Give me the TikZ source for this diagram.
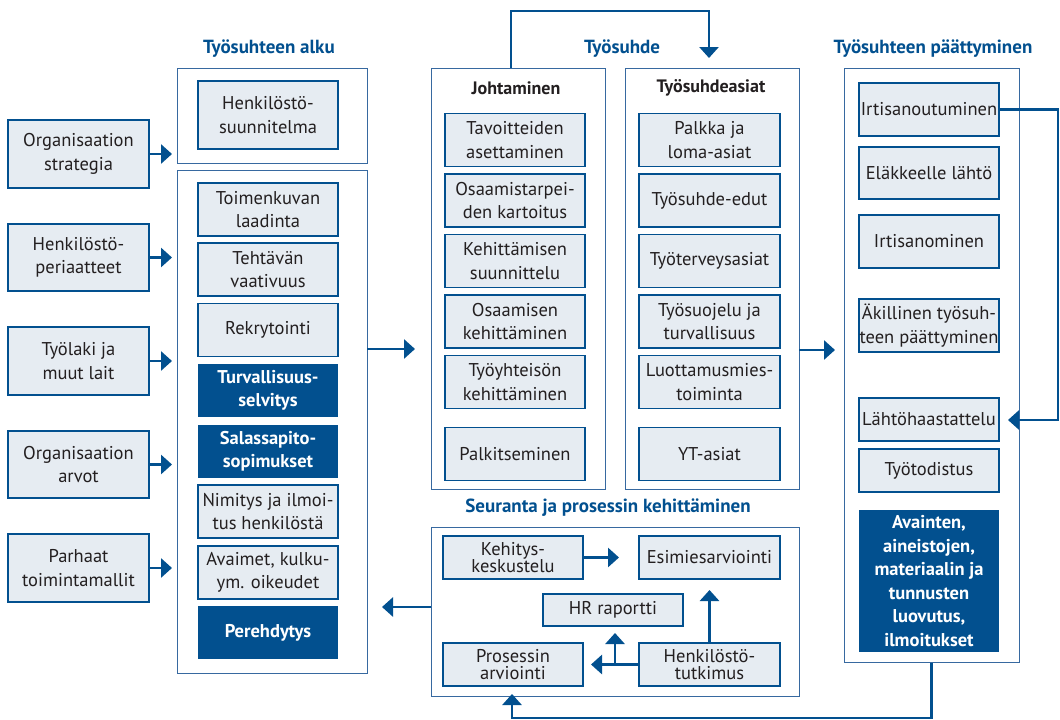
\documentclass[tikz,border=0pt]{standalone}
\usepackage{fontspec}
\setmainfont{PT Sans}
\usetikzlibrary{arrows.meta}
\definecolor{dblue}{RGB}{2,80,143}
\definecolor{lfill}{RGB}{230,236,242}
\definecolor{obord}{RGB}{55,105,160}
\definecolor{txt}{RGB}{35,31,32}
\tikzset{
 ib/.style={draw=dblue, line width=1.3pt, fill=lfill, text=txt, align=center, inner sep=0pt,
   font=\fontsize{18.5}{23.5}\selectfont, minimum width=140pt, minimum height=53pt},
 tb/.style={ib, font=\fontsize{18.5}{17}\selectfont, minimum height=43pt},
 db/.style={fill=dblue, text=white, align=center, inner sep=0pt,
   font=\fontsize{18.5}{23.5}\selectfont\bfseries, minimum width=140pt, minimum height=53pt},
 ob/.style={draw=obord, line width=1pt, inner sep=0pt},
 ttl/.style={text=dblue, font=\fontsize{19}{22}\selectfont\bfseries, inner sep=0pt},
 hdr/.style={text=txt, font=\fontsize{18}{20}\selectfont\bfseries, inner sep=0pt},
 arr/.style={draw=dblue, line width=2.8pt, -{Triangle[length=11pt,width=19pt]}},
}
\begin{document}
\begin{tikzpicture}[x=1pt,y=-1pt]
\useasboundingbox (0,0) rectangle (1060,720);
% titles
\node[ttl] (t1) at (269,49) {Työsuhteen alku};
\node[ttl] (t2) at (622,49) {Työsuhde};
\node[ttl] (t3) at (933,49) {Työsuhteen päättyminen};
\node[ttl] (t4) at (608,508) {Seuranta ja prosessin kehittäminen};
% left inputs
\node[ib, minimum width=141pt, minimum height=68pt] (ls1) at (78.5,154) {Organisaation\\strategia};
\node[ib, minimum width=141pt, minimum height=67pt] (ls2) at (78.5,257.5) {Henkilöstö-\\periaatteet};
\node[ib, minimum width=141pt, minimum height=68pt] (ls3) at (78.5,361) {Työlaki ja\\muut lait};
\node[ib, minimum width=141pt, minimum height=67pt] (ls4) at (78.5,464.5) {Organisaation\\arvot};
\node[ib, minimum width=141pt, minimum height=68pt] (ls5) at (78.5,568) {Parhaat\\toimintamallit};
% alku outer boxes
\node[ob, minimum width=190pt, minimum height=95pt] (A1) at (272,115.5) {};
\node[ob, minimum width=190pt, minimum height=503pt] (A2) at (272,421.5) {};
\node[ib, minimum height=68pt] (hs) at (268,115) {Henkilöstö-\\suunnitelma};
\node[ib] (a1) at (268,209.5) {Toimenkuvan\\laadinta};
\node[ib] (a2) at (268,269.5) {Tehtävän\\vaativuus};
\node[ib] (a3) at (268,330) {Rekrytointi};
\node[db] (a4) at (268,390.5) {Turvallisuus-\\selvitys};
\node[db] (a5) at (268,451) {Salassapito-\\sopimukset};
\node[ib] (a6) at (268,511.5) {Nimitys ja ilmoi-\\tus henkilöstä};
\node[ib] (a7) at (268,572.5) {Avaimet, kulku-\\ym. oikeudet};
\node[db] (a8) at (268,632.5) {Perehdytys};
% tyosuhde
\node[ob, minimum width=174pt, minimum height=421pt] (J) at (518,278.5) {};
\node[ob, minimum width=174pt, minimum height=421pt] (T) at (712,278.5) {};
\node[hdr] (jh) at (516,88) {Johtaminen};
\node[hdr] (th) at (711,88) {Työsuhdeasiat};
\node[ib] (j1) at (515,140) {Tavoitteiden\\asettaminen};
\node[ib] (j2) at (515,200.5) {Osaamistarpei-\\den kartoitus};
\node[ib] (j3) at (515,261) {Kehittämisen\\suunnittelu};
\node[ib] (j4) at (515,321.5) {Osaamisen\\kehittäminen};
\node[ib] (j5) at (515,382) {Työyhteisön\\kehittäminen};
\node[ib] (j6) at (515,454) {Palkitseminen};
\node[ib, minimum width=141pt] (w1) at (709.5,140) {Palkka ja\\loma-asiat};
\node[ib, minimum width=141pt] (w2) at (709.5,200.5) {Työsuhde-edut};
\node[ib, minimum width=141pt] (w3) at (709.5,261) {Työterveysasiat};
\node[ib, minimum width=141pt] (w4) at (709.5,321.5) {Työsuojelu ja\\turvallisuus};
\node[ib, minimum width=141pt] (w5) at (709.5,382) {Luottamusmies-\\toiminta};
\node[ib, minimum width=141pt] (w6) at (709.5,454) {YT-asiat};
% paattyminen
\node[ob, minimum width=175pt, minimum height=594pt] (P) at (931.5,365) {};
\node[ib] (p1) at (929,109.5) {Irtisanoutuminen};
\node[ib, minimum height=52pt] (p2) at (929,173) {Eläkkeelle lähtö};
\node[ib] (p3) at (929,241.5) {Irtisanominen};
\node[ib] (p4) at (929,325.5) {Äkillinen työsuh-\\teen päättyminen};
\node[ib, minimum height=43pt] (p5) at (929,419.5) {Lähtöhaastattelu};
\node[ib, minimum height=43pt] (p6) at (929,470.5) {Työtodistus};
\node[db, minimum height=142pt] (p7) at (929,581) {Avainten,\\aineistojen,\\materiaalin ja\\tunnusten\\luovutus,\\ilmoitukset};
% seuranta
\node[ob, minimum width=368pt, minimum height=169pt] (S) at (615,611.5) {};
\node[tb] (k1) at (513,557.5) {Kehitys-\\keskustelu};
\node[tb, minimum width=141pt] (k2) at (709.5,557.5) {Esimiesarviointi};
\node[tb, minimum height=32pt] (k3) at (613,610) {HR raportti};
\node[tb] (k4) at (513,664.5) {Prosessin\\arviointi};
\node[tb, minimum width=141pt] (k5) at (709.5,664.5) {Henkilöstö-\\tutkimus};
% coordinates
\coordinate (tipL) at (172,0);
\coordinate (aJs) at (367,349);
\coordinate (aJt) at (415,349);
\coordinate (aPs) at (799,350);
\coordinate (aPt) at (835,350);
\coordinate (tl1) at (511,11);
\coordinate (tl2) at (709,11);
\coordinate (tlt) at (709,58);
\coordinate (rl1) at (1058,0);
\coordinate (rlt) at (1008,420);
\coordinate (bl) at (512,718);
\coordinate (blt) at (512,694);
\coordinate (sls) at (431,607);
\coordinate (slt) at (382,607);
\coordinate (k1t) at (619,0);
\coordinate (k5t) at (0,590);
\coordinate (k4t) at (591,0);
\coordinate (br) at (615,0);
\coordinate (brt) at (615,633);
% connectors
\draw[arr] (ls1.east) -- (ls1.east -| tipL);
\draw[arr] (ls2.east) -- (ls2.east -| tipL);
\draw[arr] (ls3.east) -- (ls3.east -| tipL);
\draw[arr] (ls4.east) -- (ls4.east -| tipL);
\draw[arr] (ls5.east) -- (ls5.east -| tipL);
\draw[arr] (aJs) -- (aJt);
\draw[arr] (aPs) -- (aPt);
\draw[arr] (tl1 |- J.north) -- (tl1) -- (tl2) -- (tlt);
\draw[arr] (p1.east) -- (p1.east -| rl1) |- (rlt);
\draw[arr] (P.south) |- (bl) -- (blt);
\draw[arr] (sls) -- (slt);
\draw[arr] (k1.east) -- (k1.east -| k1t);
\draw[arr] (k5.north) -- (k5.north |- k5t);
\draw[arr] (k5.west) -- (k5.west -| k4t);
\draw[arr] (br |- k5.west) -- (brt);
\end{tikzpicture}
\end{document}
